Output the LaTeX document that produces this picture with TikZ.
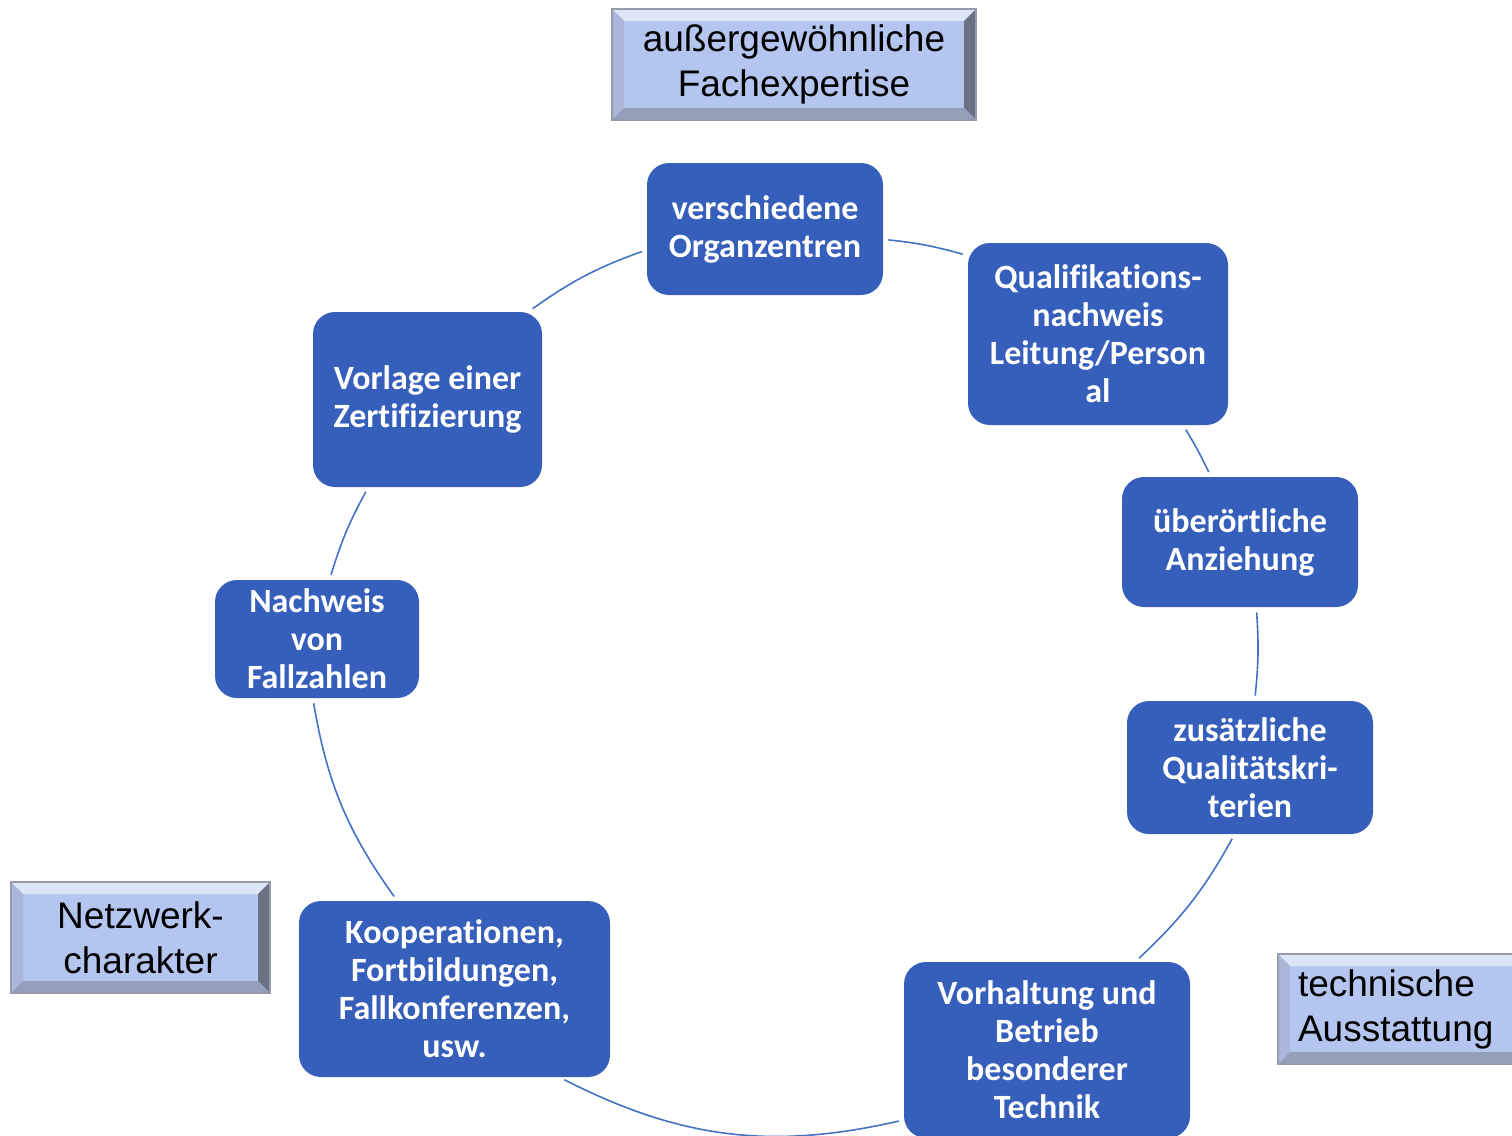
\documentclass[tikz,border=0pt]{standalone}
\usepackage{fontspec}
\setmainfont{Carlito}[Ligatures=CommonOff]
\newfontfamily\arialfont{Liberation Sans}
\definecolor{zentrumblau}{RGB}{54,95,187}
\definecolor{bogenblau}{RGB}{68,114,196}
\definecolor{fachfill}{RGB}{180,197,240}
\definecolor{fachrand}{RGB}{150,155,170}
\tikzset{
  zentrum/.style={fill=zentrumblau, rounded corners=11pt, text=white,
    font=\bfseries\fontsize{17}{19}\selectfont, align=center, inner sep=2pt},
  bogen/.style={draw=bogenblau, line width=0.8pt, shorten <=2.5pt, shorten >=2.5pt},
  fachbox/.style={fill=fachfill, draw=fachrand, line width=0.8pt,
    font=\arialfont\fontsize{18.5}{22.5}\selectfont, align=center, inner sep=0pt,
    path picture={
      \coordinate (nw) at (path picture bounding box.north west);
      \coordinate (ne) at (path picture bounding box.north east);
      \coordinate (sw) at (path picture bounding box.south west);
      \coordinate (se) at (path picture bounding box.south east);
      \fill[fachfill!45!white] (nw) -- (ne) -- ([shift={(-6pt,-6pt)}]ne) -- ([shift={(6pt,-6pt)}]nw) -- cycle;
      \fill[fachfill!80!gray] (nw) -- ([shift={(6pt,-6pt)}]nw) -- ([shift={(6pt,6pt)}]sw) -- (sw) -- cycle;
      \fill[fachfill!55!black!75!gray] (ne) -- ([shift={(-6pt,-6pt)}]ne) -- ([shift={(-6pt,6pt)}]se) -- (se) -- cycle;
      \fill[fachfill!70!gray!90!black] (sw) -- ([shift={(6pt,6pt)}]sw) -- ([shift={(-6pt,6pt)}]se) -- (se) -- cycle;
    }}
}
\begin{document}
\begin{tikzpicture}[x=0.5pt,y=-0.5pt]
\useasboundingbox (0,0) rectangle (1512,1136);
% Zyklus
\node[zentrum, minimum width=118pt, minimum height=66pt] (orgzentren) at (765,229) {verschiedene\\Organzentren};
\node[zentrum, minimum width=130pt, minimum height=91pt] (qualifikation) at (1098,334) {Qualifikations-\\nachweis\\Leitung/Person\\al};
\node[zentrum, minimum width=118pt, minimum height=65pt] (anziehung) at (1240,542) {überörtliche\\Anziehung};
\node[zentrum, minimum width=123pt, minimum height=66.5pt] (kriterien) at (1250,767.5) {zusätzliche\\Qualitätskri-\\terien};
\node[zentrum, minimum width=143pt, minimum height=88pt] (technik) at (1047,1050) {Vorhaltung und\\Betrieb\\besonderer\\Technik};
\node[zentrum, minimum width=155.5pt, minimum height=88pt] (kooperation) at (454.5,989) {Kooperationen,\\Fortbildungen,\\Fallkonferenzen,\\usw.};
\node[zentrum, minimum width=102pt, minimum height=59pt] (fallzahlen) at (317,639) {Nachweis\\von\\Fallzahlen};
\node[zentrum, minimum width=114.5pt, minimum height=87.5pt] (zertifizierung) at (427.5,399.5) {Vorlage einer\\Zertifizierung};
\draw[bogen] (orgzentren.-5) to[bend left=5] (qualifikation.149);
\draw[bogen] (qualifikation.-47) to[bend left=3] (anziehung.114);
\draw[bogen] (anziehung.-76) to[bend left=5] (kriterien.86);
\draw[bogen] (kriterien.-103) to[bend left=9] (technik.45);
\draw[bogen] (technik.206) to[bend left=20] (kooperation.-40);
\draw[bogen] (kooperation.123) to[bend left=13] (fallzahlen.-94);
\draw[bogen] (fallzahlen.78) to[bend left=6] (zertifizierung.-124);
\draw[bogen] (zertifizierung.41) to[bend left=8] (orgzentren.190);
% Merkmale
\node[fachbox, minimum width=182pt, minimum height=55.5pt] (fachexpertise) at (794,64.5) {außergewöhnliche\\Fachexpertise};
\node[fachbox, minimum width=129.5pt, minimum height=55.5pt] (netzwerk) at (140.5,937.5) {Netzwerk-\\charakter};
\node[fachbox, minimum height=55pt, text width=109.5pt, inner xsep=10pt, align=left] (ausstattung) at (1407.5,1009) {technische\\Ausstattung};
\end{tikzpicture}
\end{document}
